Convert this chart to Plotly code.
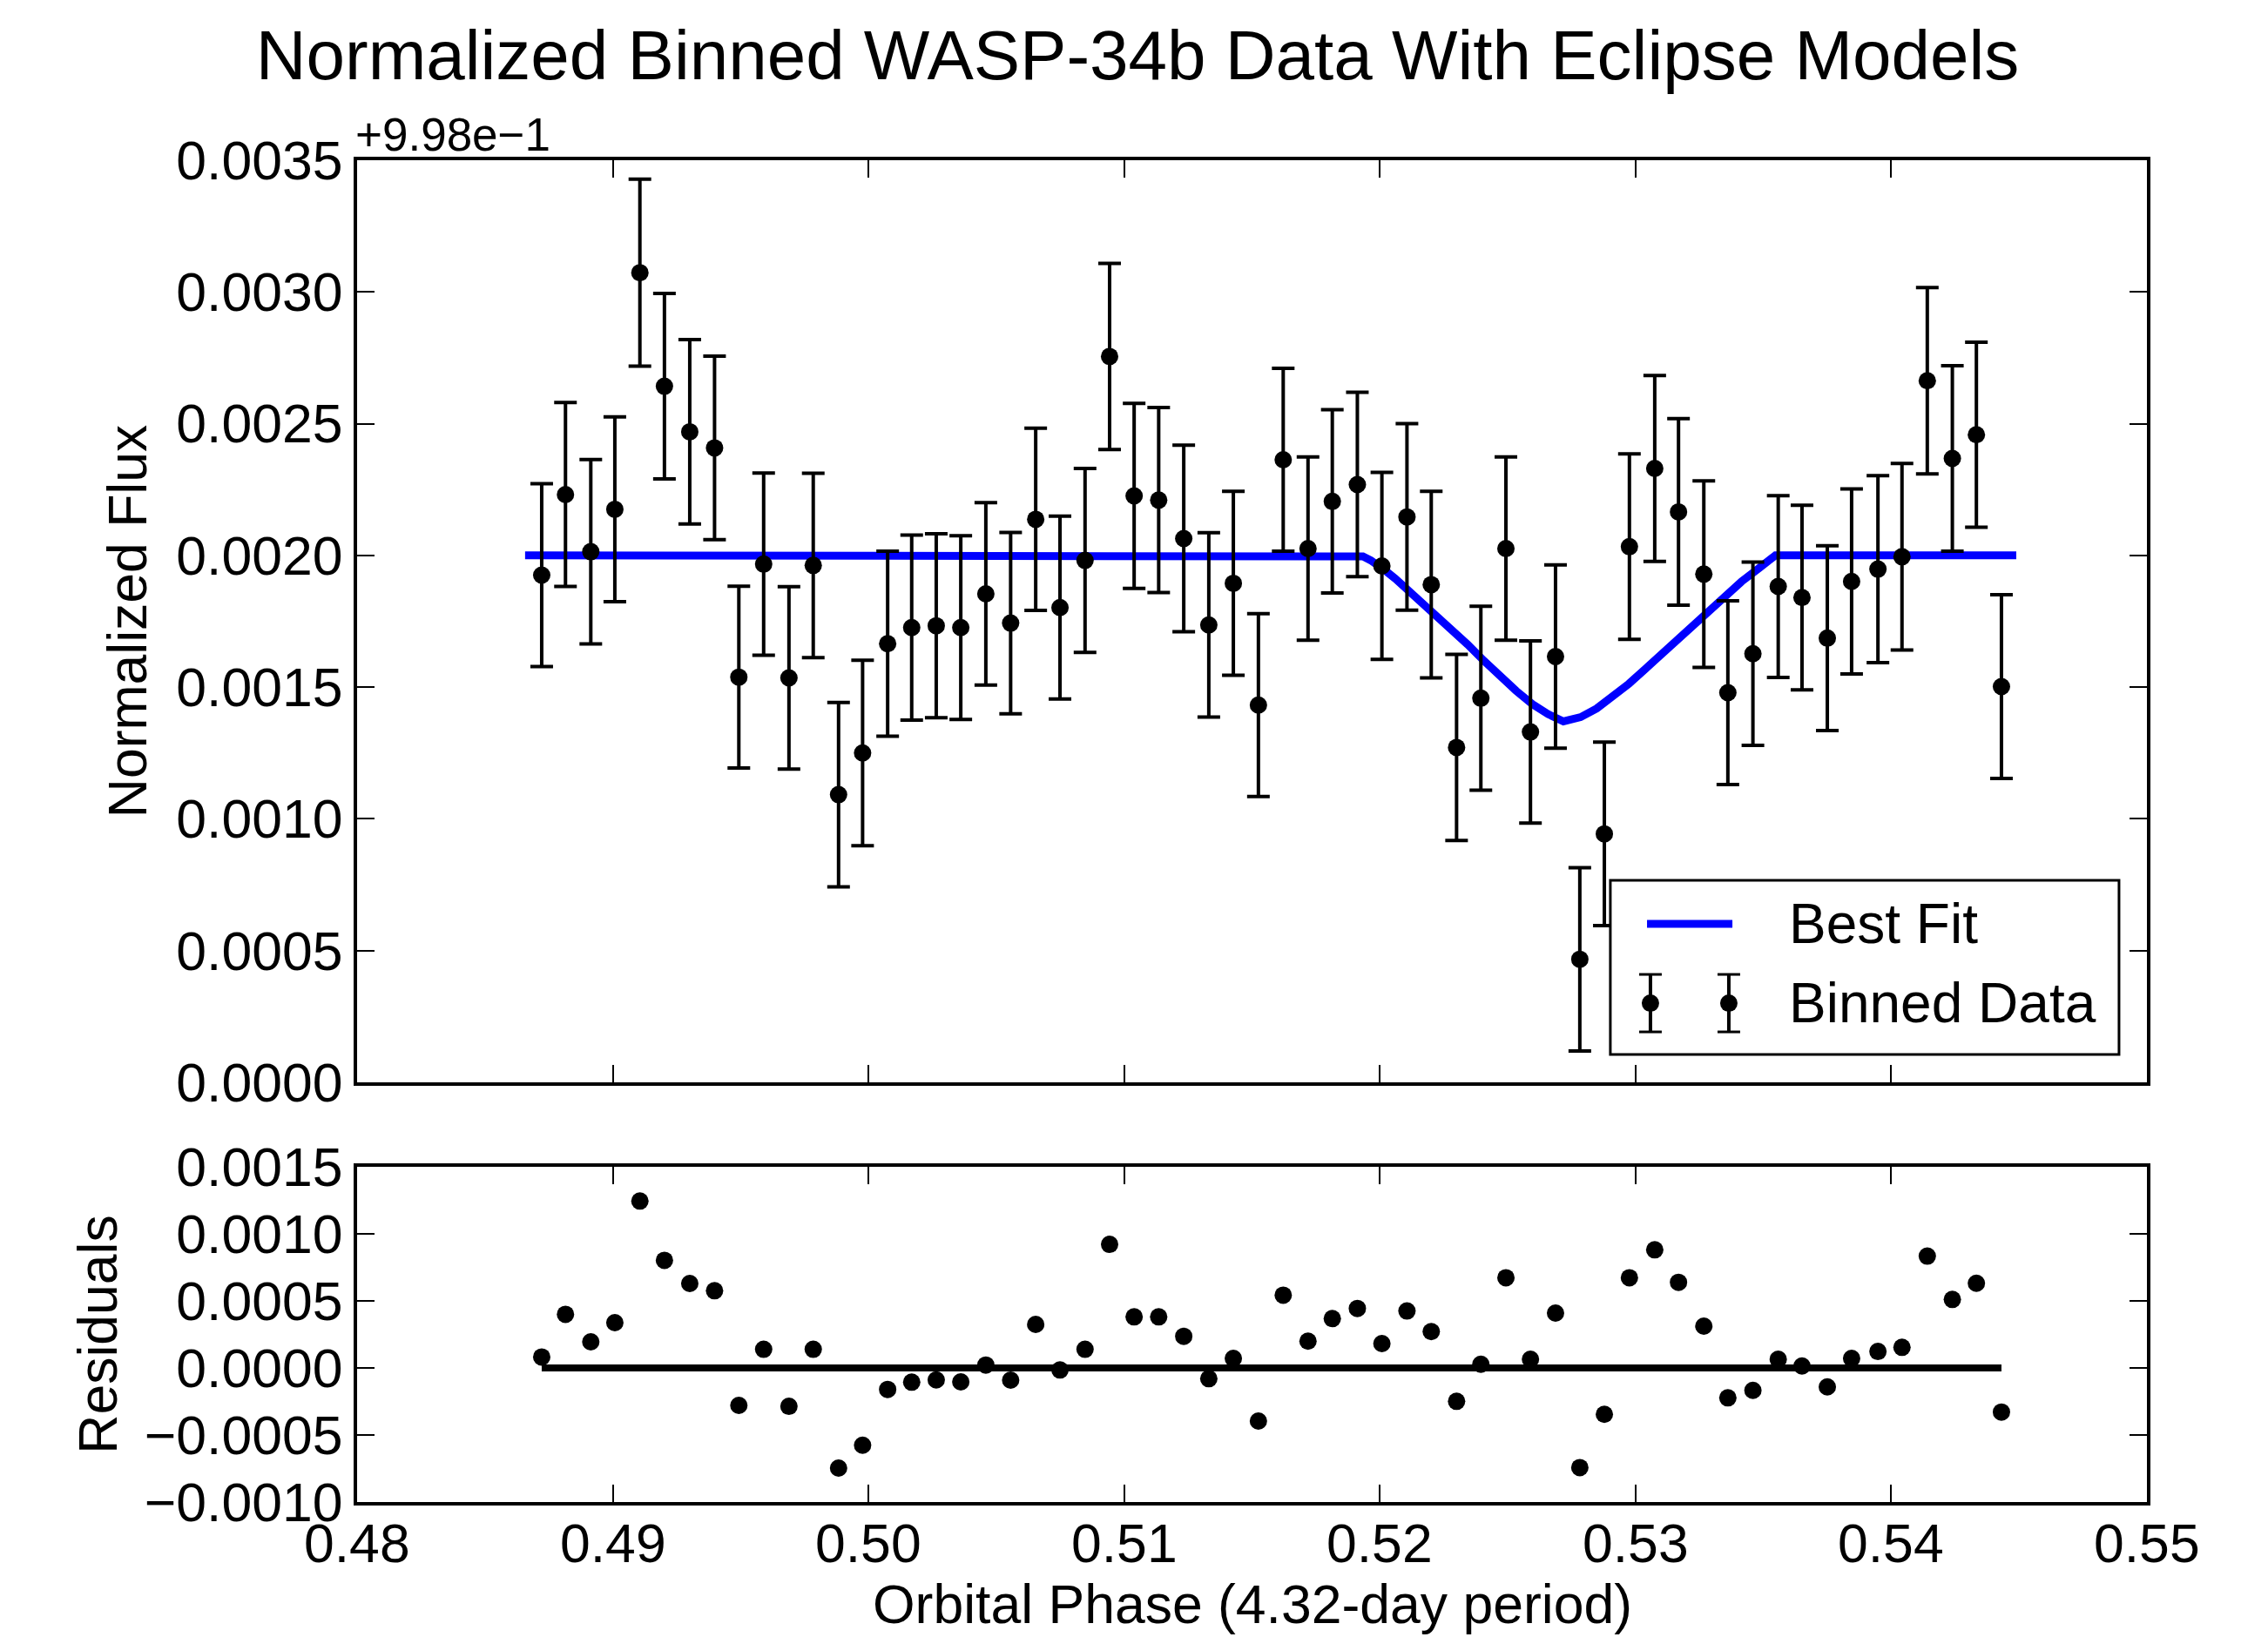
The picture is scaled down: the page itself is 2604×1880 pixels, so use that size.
import plotly.graph_objects as go

# ---- data ----
phase = [0.48722, 0.48815, 0.48914, 0.49008, 0.49106, 0.49202, 0.49301, 0.49398, 0.49493, 0.49590,
         0.49689, 0.49784, 0.49883, 0.49977, 0.50075, 0.50169, 0.50265, 0.50361, 0.50459, 0.50556,
         0.50654, 0.50749, 0.50847, 0.50943, 0.51039, 0.51135, 0.51233, 0.51331, 0.51427, 0.51525,
         0.51622, 0.51719, 0.51814, 0.51912, 0.52008, 0.52106, 0.52201, 0.52300, 0.52395, 0.52493,
         0.52589, 0.52687, 0.52782, 0.52878, 0.52976, 0.53075, 0.53168, 0.53267, 0.53361, 0.53459,
         0.53558, 0.53651, 0.53750, 0.53845, 0.53948, 0.54042, 0.54141, 0.54239, 0.54333, 0.54431]

flux = [0.001925, 0.002231, 0.002014, 0.002175, 0.003073, 0.002642, 0.002469, 0.002408, 0.001538, 0.001967,
        0.001535, 0.001962, 0.001092, 0.001250, 0.001665, 0.001726, 0.001733, 0.001726, 0.001854, 0.001743,
        0.002137, 0.001802, 0.001981, 0.002755, 0.002226, 0.002210, 0.002064, 0.001736, 0.001894, 0.001432,
        0.002363, 0.002026, 0.002205, 0.002269, 0.001960, 0.002146, 0.001889, 0.001271, 0.001458, 0.002026,
        0.001330, 0.001616, 0.000467, 0.000943, 0.002033, 0.002330, 0.002165, 0.001929, 0.001479, 0.001627,
        0.001882, 0.001840, 0.001686, 0.001901, 0.001948, 0.001995, 0.002663, 0.002368, 0.002458, 0.001502]

flux_err = [0.000347, 0.000349, 0.000350, 0.000351, 0.000355, 0.000352, 0.000350, 0.000348, 0.000345, 0.000346,
            0.000346, 0.000350, 0.000350, 0.000352, 0.000351, 0.000351, 0.000349, 0.000349, 0.000346, 0.000344,
            0.000346, 0.000347, 0.000349, 0.000353, 0.000351, 0.000351, 0.000354, 0.000350, 0.000349, 0.000347,
            0.000347, 0.000348, 0.000348, 0.000350, 0.000355, 0.000354, 0.000354, 0.000353, 0.000349, 0.000348,
            0.000346, 0.000348, 0.000348, 0.000348, 0.000352, 0.000353, 0.000354, 0.000354, 0.000349, 0.000348,
            0.000345, 0.000350, 0.000351, 0.000351, 0.000355, 0.000354, 0.000354, 0.000352, 0.000351, 0.000349]

model_phase = [0.48657, 0.51902, 0.51934, 0.51965, 0.51997, 0.52028, 0.52060, 0.52091, 0.52154, 0.52217,
               0.52280, 0.52343, 0.52406, 0.52469, 0.52533, 0.52596, 0.52659, 0.52718, 0.52753, 0.52785,
               0.52848, 0.52911, 0.52974, 0.53037, 0.53100, 0.53163, 0.53226, 0.53289, 0.53352, 0.53415,
               0.53478, 0.53515, 0.53547, 0.54489]
model_flux = [0.002000, 0.002000, 0.001996, 0.001981, 0.001961, 0.001937, 0.001912, 0.001885, 0.001833, 0.001780,
              0.001722, 0.001662, 0.001601, 0.001541, 0.001486, 0.001436, 0.001397, 0.001370, 0.001378, 0.001386,
              0.001419, 0.001464, 0.001513, 0.001568, 0.001623, 0.001681, 0.001739, 0.001796, 0.001849, 0.001901,
              0.001948, 0.001976, 0.002000, 0.002000]

residual = [0.000082, 0.000400, 0.000195, 0.000338, 0.001245, 0.000803, 0.000630, 0.000576, -0.000279, 0.000139,
            -0.000286, 0.000139, -0.000747, -0.000576, -0.000160, -0.000106, -0.000089, -0.000104, 0.000022, -0.000091,
            0.000325, -0.000015, 0.000139, 0.000922, 0.000381, 0.000381, 0.000236, -0.000080, 0.000071, -0.000396,
            0.000543, 0.000200, 0.000368, 0.000444, 0.000182, 0.000425, 0.000271, -0.000249, 0.000028, 0.000673,
            0.000065, 0.000409, -0.000743, -0.000346, 0.000673, 0.000881, 0.000639, 0.000312, -0.000223, -0.000167,
            0.000065, 0.000015, -0.000141, 0.000071, 0.000123, 0.000154, 0.000834, 0.000511, 0.000632, -0.000329]

x_ticks = [0.48, 0.49, 0.50, 0.51, 0.52, 0.53, 0.54, 0.55]
flux_ticks = [0.0000, 0.0005, 0.0010, 0.0015, 0.0020, 0.0025, 0.0030, 0.0035]
resid_ticks = [-0.0010, -0.0005, 0.0000, 0.0005, 0.0010, 0.0015]
offset_label = "+9.98e\u22121"
legend_labels = ["Best Fit", "Binned Data"]

FONT = "Liberation Sans, Arial, Helvetica, sans-serif"
BLUE = "#0000ff"
TICK_SIZE = 62.5
LABEL_SIZE = 62.5
LEGEND_SIZE = 64

# figure geometry (page body adds an 8px margin)
W, H = 2596, 1872
L, R, T, B = 402, 139, 176, 155
PW, PH = W - L - R, H - T - B


def px_x(dx):
    return dx / PW


def px_y(dy):
    return dy / PH


fig = go.Figure()
fig.add_trace(go.Scatter(x=model_phase, y=model_flux, mode="lines", name=legend_labels[0],
                         line=dict(color=BLUE, width=9), xaxis="x", yaxis="y"))
fig.add_trace(go.Scatter(x=phase, y=flux, mode="markers", name=legend_labels[1],
                         marker=dict(color="black", size=20),
                         error_y=dict(type="data", array=flux_err, color="black", thickness=4, width=13),
                         xaxis="x", yaxis="y"))
fig.add_trace(go.Scatter(x=[phase[0], phase[-1]], y=[0, 0], mode="lines",
                         line=dict(color="black", width=8), xaxis="x2", yaxis="y2"))
fig.add_trace(go.Scatter(x=phase, y=residual, mode="markers",
                         marker=dict(color="black", size=20), xaxis="x2", yaxis="y2"))

axis_common = dict(showline=True, linecolor="black", linewidth=4, mirror="ticks",
                   ticks="inside", ticklen=20, tickwidth=2, tickcolor="black",
                   showgrid=False, zeroline=False, automargin=False,
                   tickfont=dict(size=TICK_SIZE, color="black", family=FONT))

# ---- legend (drawn as a matplotlib-style box) ----
lg_x0, lg_x1 = 0.7002, 0.9844
lg_y0, lg_y1 = 0.3336, 0.4633
row1_y, row2_y = 0.4309, 0.3718
shapes = [
    dict(type="rect", xref="paper", yref="paper", x0=lg_x0, x1=lg_x1, y0=lg_y0, y1=lg_y1,
         fillcolor="white", line=dict(color="black", width=3), layer="above"),
    dict(type="line", xref="paper", yref="paper", x0=0.7207, x1=0.7684, y0=row1_y, y1=row1_y,
         line=dict(color=BLUE, width=9), layer="above"),
]
for cx in (0.7226, 0.7664):
    half_bar = px_y(33)
    cap = px_x(13)
    shapes.append(dict(type="line", xref="paper", yref="paper", x0=cx, x1=cx,
                       y0=row2_y - half_bar, y1=row2_y + half_bar,
                       line=dict(color="black", width=4), layer="above"))
    for sy in (row2_y - half_bar, row2_y + half_bar):
        shapes.append(dict(type="line", xref="paper", yref="paper", x0=cx - cap, x1=cx + cap,
                           y0=sy, y1=sy, line=dict(color="black", width=3), layer="above"))
    shapes.append(dict(type="circle", xref="paper", yref="paper",
                       x0=cx - px_x(10), x1=cx + px_x(10), y0=row2_y - px_y(10), y1=row2_y + px_y(10),
                       fillcolor="black", line=dict(color="black", width=0), layer="above"))

annotations = [
    dict(text=offset_label, x=0, y=1, xref="paper", yref="paper", xanchor="left", yanchor="bottom",
         xshift=-4, yshift=-2, showarrow=False, font=dict(size=53, color="black", family=FONT)),
    dict(text="Orbital Phase (4.32-day period)", x=0.5, y=-0.0760, xref="paper", yref="paper",
         xanchor="center", yanchor="middle", showarrow=False,
         font=dict(size=LABEL_SIZE, color="black", family=FONT)),
    dict(text=legend_labels[0], x=0.7990, y=row1_y, xref="paper", yref="paper", xanchor="left",
         yanchor="middle", showarrow=False, font=dict(size=LEGEND_SIZE, color="black", family=FONT)),
    dict(text=legend_labels[1], x=0.7990, y=row2_y, xref="paper", yref="paper", xanchor="left",
         yanchor="middle", showarrow=False, font=dict(size=LEGEND_SIZE, color="black", family=FONT)),
]
# bottom x tick labels, placed at the tick values of the residual axis
for v in x_ticks:
    annotations.append(dict(text=f"{v:.2f}", x=v, xref="x2", y=-0.0305, yref="paper",
                            xanchor="center", yanchor="middle", showarrow=False,
                            font=dict(size=TICK_SIZE, color="black", family=FONT)))

fig.update_layout(
    width=W, height=H,
    paper_bgcolor="white", plot_bgcolor="white",
    font=dict(family=FONT, color="black", size=LABEL_SIZE),
    margin=dict(l=L, r=R, t=T, b=B, autoexpand=False),
    title=dict(text="Normalized Binned WASP-34b Data With Eclipse Models",
               x=0.5, xref="container", xanchor="center",
               y=1 - 55 / H, yref="container", yanchor="middle",
               font=dict(size=80, color="black", family=FONT)),
    xaxis=dict(axis_common, domain=[0, 1], anchor="y", range=[0.48, 0.55],
               tickvals=x_ticks, showticklabels=False),
    yaxis=dict(axis_common, domain=[0.3128, 1], anchor="x", range=[0.0, 0.0035],
               tickvals=flux_ticks, tickformat=".4f", ticklabelstandoff=0,
               title=dict(text="Normalized Flux", standoff=14, font=dict(size=LABEL_SIZE))),
    xaxis2=dict(axis_common, domain=[0, 1], anchor="y2", range=[0.48, 0.55],
                tickvals=x_ticks, showticklabels=False),
    yaxis2=dict(axis_common, domain=[0, 0.2498], anchor="x2", range=[-0.0010, 0.0015],
                tickvals=resid_ticks, tickformat=".4f", ticklabelstandoff=0,
                title=dict(text="Residuals", standoff=12, font=dict(size=LABEL_SIZE))),
    showlegend=False,
    shapes=shapes,
    annotations=annotations,
)

fig.write_html("out.html")
